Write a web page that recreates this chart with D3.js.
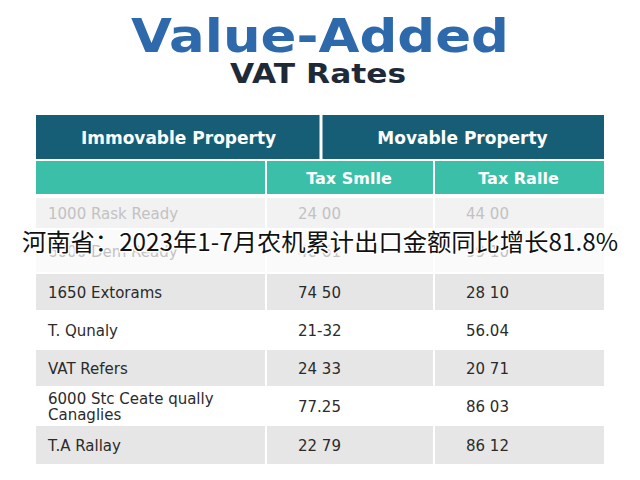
<!DOCTYPE html><html><head><meta charset="utf-8"><script src="https://cdn.jsdelivr.net/npm/d3@7"></script>
<style>body{margin:0;background:#fff}</style></head><body><script>
const groupHeaders=["Immovable Property","Movable Property"];
const columns=["","Tax Smlle","Tax Ralle"];
const rowLabels=["1000 Rask Ready","6000 Dem Ready","1650 Extorams","T. Qunaly","VAT Refers","6000 Stc Ceate qually\nCanaglies","T.A Rallay"];
const taxSmlle=["24 00","46 61","74 50","21-32","24 33","77.25","22 79"];
const taxRalle=["44 00","99 10","28 10","56.04","20 71","86 03","86 12"];
const title="Value-Added", subtitle="VAT Rates";
const overlay="河南省：2023年1-7月农机累计出口金额同比增长81.8%";

const svg=d3.select("body").append("svg").attr("width",640).attr("height",480);
svg.append("rect").attr("width",640).attr("height",480).attr("fill","#fff");
svg.append("text").attr("x",320).attr("y",52).attr("text-anchor","middle").attr("font-family","DejaVu Sans").attr("font-weight","bold").attr("font-size",46).attr("textLength",378).attr("lengthAdjust","spacingAndGlyphs").attr("fill","#2e6aab").text(title);
svg.append("text").attr("x",318).attr("y",83).attr("text-anchor","middle").attr("font-family","DejaVu Sans").attr("font-weight","bold").attr("font-size",26).attr("textLength",176).attr("lengthAdjust","spacingAndGlyphs").attr("fill","#1e2a38").text(subtitle);

const L=36,R=604,c1=265,c2=433;
svg.append("rect").attr("x",L).attr("y",115).attr("width",R-L).attr("height",44).attr("fill","#155e75");
svg.append("line").attr("x1",321).attr("x2",321).attr("y1",115).attr("y2",159).attr("stroke","#fff").attr("stroke-width",3);
const gx=d3.scalePoint().domain(groupHeaders).range([(L+321)/2,(321+R)/2]);
svg.selectAll(".gh").data(groupHeaders).join("text").attr("x",d=>gx(d)).attr("y",144).attr("text-anchor","middle").attr("font-family","DejaVu Sans").attr("font-weight","bold").attr("font-size",17).attr("fill","#fff").text(d=>d);

const colX=[L,c1,c2,R];
columns.forEach((c,i)=>{
 svg.append("rect").attr("x",colX[i]+(i?2:0)).attr("y",161).attr("width",colX[i+1]-colX[i]-(i?2:0)).attr("height",33).attr("fill","#3bbfa8");
 if(c) svg.append("text").attr("x",(colX[i]+colX[i+1])/2).attr("y",184).attr("text-anchor","middle").attr("font-family","DejaVu Sans").attr("font-weight","bold").attr("font-size",16).attr("fill","#fff").text(c);
});

const rowTops=[198,230,274,312,350,388,426,466];
const y=d3.scaleOrdinal().domain(d3.range(7)).range(rowTops.slice(0,7));
rowLabels.forEach((lab,i)=>{
 const top=y(i),h=rowTops[i+1]-top;
 const fill=i<2?(i===0?"#f2f2f2":"#fafafa"):(i%2===0?"#e6e6e6":"#fff");
 [0,1,2].forEach(j=>svg.append("rect").attr("x",colX[j]+(j?2:0)).attr("y",top).attr("width",colX[j+1]-colX[j]-(j?2:0)).attr("height",h-2).attr("fill",fill));
 const col=i<2?"#c2c2c2":"#2b2b2b";
 const lines=lab.split("\n"), mid=top+h/2+5;
 lines.forEach((t,k)=>svg.append("text").attr("x",48).attr("y",mid+(k-(lines.length-1)/2)*16).attr("font-family","DejaVu Sans").attr("font-size",15).attr("fill",col).text(t));
 svg.append("text").attr("x",298).attr("y",mid).attr("font-family","DejaVu Sans").attr("font-size",15).attr("fill",col).text(taxSmlle[i]);
 svg.append("text").attr("x",466).attr("y",mid).attr("font-family","DejaVu Sans").attr("font-size",15).attr("fill",col).text(taxRalle[i]);
});

svg.append("text").attr("x",320).attr("y",251).attr("text-anchor","middle").attr("font-family","Noto Sans CJK SC").attr("font-size",24).attr("textLength",596).attr("lengthAdjust","spacingAndGlyphs").attr("fill","#111").attr("stroke","#fff").attr("stroke-width",3).attr("paint-order","stroke").text(overlay);
</script></body></html>
